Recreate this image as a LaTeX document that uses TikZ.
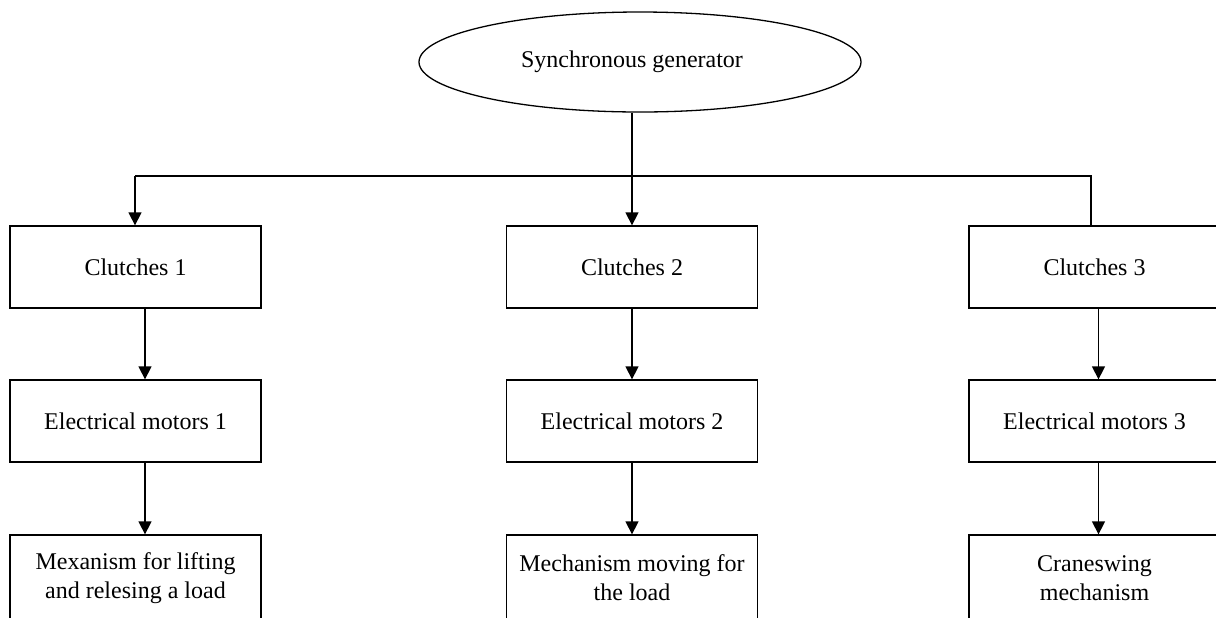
\documentclass[tikz,border=0pt]{standalone}
\usepackage{fontspec}
\setmainfont{Liberation Serif}
\usetikzlibrary{arrows.meta,shapes.geometric}
\begin{document}
\begin{tikzpicture}[x=0.5pt,y=-0.5pt,
  line width=0.65pt,
  every node/.style={font=\fontsize{12}{14.5}\selectfont},
  genshape/.style={draw,ellipse,minimum width=221pt,minimum height=50pt,inner sep=0pt},
  blockbox/.style={draw,rectangle,minimum width=125.5pt,minimum height=41pt,inner sep=0pt,align=center},
  tallbox/.style={blockbox,minimum height=43pt},
  flow/.style={-{Triangle[width=6.5pt,length=6.5pt]}}]
\useasboundingbox (0,0) rectangle (1216,617);
\clip (0,0) rectangle (1216,617);

% source
\node[genshape] (gen) at (640,62) {};
\node (gentext) at (632,62) {Synchronous generator};

% clutches
\node[blockbox] (c1) at (135.5,267) {Clutches 1};
\node[blockbox] (c2) at (632,267) {Clutches 2};
\node[blockbox] (c3) at (1094.5,267) {Clutches 3};

% motors
\node[blockbox] (e1) at (135.5,421) {Electrical motors 1};
\node[blockbox] (e2) at (632,421) {Electrical motors 2};
\node[blockbox] (e3) at (1094.5,421) {Electrical motors 3};

% driven mechanisms
\node[tallbox] (m1) at (135.5,578) {Mexanism for lifting\\and relesing a load};
\node[tallbox] (m2) at (632,578) {Mechanism moving for\\the load};
\node[tallbox] (m3) at (1094.5,578) {Craneswing\\mechanism};

% distribution bus
\coordinate (busL) at (135,176);
\coordinate (busR) at (1091,176);

\draw[flow] (c2.north |- gen.south) -- (c2.north);
\draw (c3.north -| busR) -- (busR) -- (busL);
\draw[flow] (busL) -- (busL |- c1.north);

% column connectors
\draw[flow] ([xshift=4.75pt]c1.south) -- ([xshift=4.75pt]e1.north);
\draw[flow] ([xshift=4.75pt]e1.south) -- ([xshift=4.75pt]m1.north);
\draw[flow] (c2.south) -- (e2.north);
\draw[flow] (e2.south) -- (m2.north);
\draw[flow] ([xshift=2pt]c3.south) -- ([xshift=2pt]e3.north);
\draw[flow] ([xshift=2pt]e3.south) -- ([xshift=2pt]m3.north);
\end{tikzpicture}
\end{document}
